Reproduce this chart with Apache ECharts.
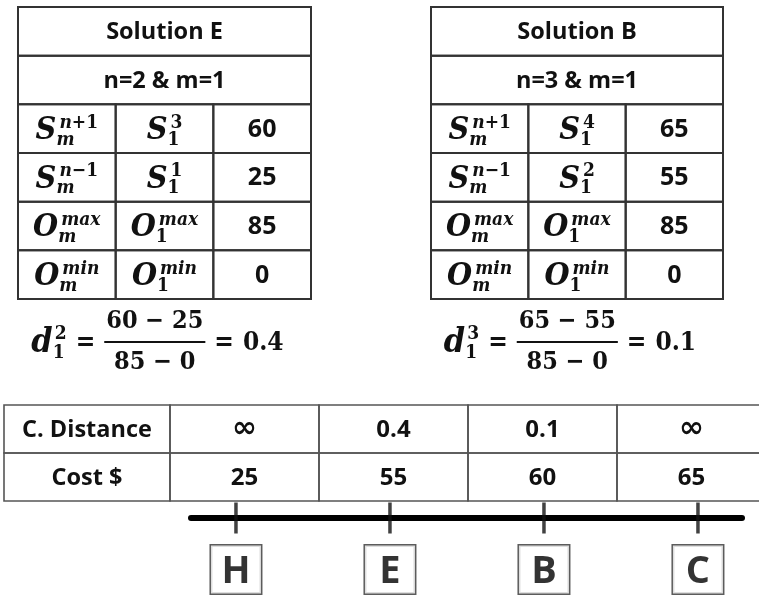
<!DOCTYPE html>
<html><head><meta charset="utf-8">
<script src="https://cdn.jsdelivr.net/npm/echarts@6/dist/echarts.min.js"></script>
<style>html,body{margin:0;padding:0;background:#fff}#c{width:759px;height:598px}</style>
</head><body><div id="c"></div>
<script>
// ---------------- data ----------------
const solutionTitles = ['Solution E', 'Solution B'];
const solutionN = [2, 3];
const solutionM = [1, 1];
const genericSymbols = [['S','n+1','m'], ['S','n−1','m'], ['O','max','m'], ['O','min','m']];
const solutionESymbols = [['S','3','1'], ['S','1','1'], ['O','max','1'], ['O','min','1']];
const solutionBSymbols = [['S','4','1'], ['S','2','1'], ['O','max','1'], ['O','min','1']];
const solutionEValues = [60, 25, 85, 0];
const solutionBValues = [65, 55, 85, 0];
const solutionResults = ['0.4', '0.1'];
const rowHeaders = ['C. Distance', 'Cost $'];
const crowdingDistance = ['∞', '0.4', '0.1', '∞'];
const costs = [25, 55, 60, 65];
const solutionLetters = ['H', 'E', 'B', 'C'];

// ---------------- helpers ----------------
const mctx = document.createElement('canvas').getContext('2d');
function tw(font, s) { mctx.font = font; return mctx.measureText(s).width; }
const MATH = '"DejaVu Serif Condensed", "DejaVu Serif", serif';
const SANS = '"Open Sans", "Noto Sans", sans-serif';
const INK = '#111';

function segs(str) {
  const out = [];
  for (const ch of str) {
    const it = /[a-z]/i.test(ch);
    if (out.length && out[out.length - 1].it === it) out[out.length - 1].t += ch;
    else out.push({ t: ch, it });
  }
  return out;
}
function scriptFont(it, size) { return (it ? 'italic ' : '') + 'bold ' + size + 'px ' + MATH; }
function scriptWidth(str, size) { return segs(str).reduce((a, s) => a + tw(scriptFont(s.it, size), s.t), 0); }
function scriptEls(str, x, y, size) {
  const els = [];
  for (const s of segs(str)) {
    const f = scriptFont(s.it, size);
    els.push({ type: 'text', style: { text: s.t, x, y, font: f, fill: INK, align: 'left', verticalAlign: 'middle' } });
    x += tw(f, s.t);
  }
  return els;
}
const BASE_SIZE = 32, SCR_SIZE = 19;
function symbolEls(sym, cx, cy) {
  const [base, sup, sub] = sym;
  const bf = 'italic bold ' + BASE_SIZE + 'px ' + MATH;
  const wb = tw(bf, base);
  const ws = Math.max(scriptWidth(sup, SCR_SIZE) + 2, scriptWidth(sub, SCR_SIZE));
  const total = wb + 1 + ws;
  const x0 = cx - total / 2;
  return [
    { type: 'text', style: { text: base, x: x0, y: cy + 2, font: bf, fill: INK, align: 'left', verticalAlign: 'middle' } },
    ...scriptEls(sup, x0 + wb + 3, cy - 6, SCR_SIZE),
    ...scriptEls(sub, x0 + wb, cy + 11, SCR_SIZE)
  ];
}

function tableRender(cells, stroke, lw) {
  return function (params, api) {
    const c = cells[params.dataIndex];
    const p0 = api.coord([c.c0, c.r]);
    const p1 = api.coord([c.c1, c.r + 1]);
    const x = Math.min(p0[0], p1[0]), y = Math.min(p0[1], p1[1]);
    const w = Math.abs(p1[0] - p0[0]), h = Math.abs(p1[1] - p0[1]);
    const cx = x + w / 2, cy = y + h / 2;
    const children = [{ type: 'rect', shape: { x, y, width: w, height: h }, style: { fill: 'none', stroke, lineWidth: lw } }];
    if (c.kind === 'sym') children.push(...symbolEls(c.sym, cx, cy));
    else {
      const isInf = String(c.text) === '∞';
      children.push({ type: 'text', style: { text: String(c.text), x: cx, y: cy + (isInf ? 0 : 1), align: 'center', verticalAlign: 'middle',
        font: isInf ? 'bold 30px "DejaVu Sans", sans-serif' : c.font, fill: INK } });
    }
    return { type: 'group', children };
  };
}

// ---------------- top tables ----------------
function buildTopCells(t) {
  const spec = t === 0 ? solutionESymbols : solutionBSymbols;
  const vals = t === 0 ? solutionEValues : solutionBValues;
  const cells = [
    { c0: 0, c1: 3, r: 0, kind: 'text', text: solutionTitles[t], font: 'bold 23.5px ' + SANS },
    { c0: 0, c1: 3, r: 1, kind: 'text', text: 'n=' + solutionN[t] + ' & m=' + solutionM[t], font: 'bold 23.5px ' + SANS }
  ];
  for (let i = 0; i < 4; i++) {
    cells.push({ c0: 0, c1: 1, r: i + 2, kind: 'sym', sym: genericSymbols[i] });
    cells.push({ c0: 1, c1: 2, r: i + 2, kind: 'sym', sym: spec[i] });
    cells.push({ c0: 2, c1: 3, r: i + 2, kind: 'text', text: vals[i], font: 'bold 25px ' + SANS });
  }
  return cells;
}
const topCells = [buildTopCells(0), buildTopCells(1)];
const topGrids = [{ left: 18, top: 7, width: 293, height: 292 }, { left: 431, top: 7, width: 292, height: 292 }];

// ---------------- bottom table ----------------
const BT_MIN = -1.614;
const bottomCells = [];
for (let r = 0; r < 2; r++) {
  bottomCells.push({ c0: BT_MIN, c1: -0.5, r, kind: 'text', text: rowHeaders[r], font: 'bold 23.5px ' + SANS });
  for (let i = 0; i < costs.length; i++) {
    bottomCells.push({ c0: i - 0.5, c1: i + 0.5, r, kind: 'text', text: r === 0 ? crowdingDistance[i] : costs[i], font: 'bold 24px ' + SANS });
  }
}

// ---------------- formulas (graphic) ----------------
function formulaEls(t) {
  const vals = t === 0 ? solutionEValues : solutionBValues;
  const g = topGrids[t];
  const barY = 342;
  const dF = 'italic bold 34px ' + MATH;
  const nF = 'bold 25px ' + MATH;
  const eqF = 'bold 26px ' + MATH;
  const num = vals[0] + ' − ' + vals[1];
  const den = vals[2] + ' − ' + vals[3];
  const res = solutionResults[t];
  const wd = tw(dF, 'd');
  const wsc = Math.max(scriptWidth(String(solutionN[t]), 19), scriptWidth(String(solutionM[t]), 19));
  const weq = tw(eqF, '=');
  const wfr = Math.max(tw(nF, num), tw(nF, den)) + 4;
  const wres = tw(eqF, res);
  const gap = 9;
  const total = wd + 2 + wsc + gap + weq + gap + wfr + gap + weq + gap + wres;
  let x = g.left + g.width / 2 - total / 2 - 7;
  const els = [];
  const T = (text, x, y, font, align) => ({ type: 'text', style: { text, x, y, font, fill: INK, align: align || 'left', verticalAlign: 'middle' } });
  els.push(T('d', x, barY + 1, dF));
  x += wd + 1;
  els.push(...scriptEls(String(solutionN[t]), x + 1, barY - 8, 19));
  els.push(...scriptEls(String(solutionM[t]), x - 1, barY + 11, 19));
  x += wsc + 1 + gap;
  els.push(T('=', x, barY + 1, eqF));
  x += weq + gap;
  els.push({ type: 'rect', shape: { x, y: barY - 1, width: wfr, height: 2 }, style: { fill: INK } });
  els.push(T(num, x + wfr / 2, barY - 21, nF, 'center'));
  els.push(T(den, x + wfr / 2, barY + 20, nF, 'center'));
  x += wfr + gap;
  els.push(T('=', x, barY + 1, eqF));
  x += weq + gap;
  els.push(T(res, x, barY + 1, eqF));
  return els;
}

// ---------------- chart ----------------
const chart = echarts.init(document.getElementById('c'), null, { renderer: 'canvas' });
const hiddenX = (min, max, gi) => ({ type: 'value', gridIndex: gi, min, max, show: false });
const hiddenY = (min, max, gi, inv) => ({ type: 'value', gridIndex: gi, min, max, inverse: !!inv, show: false });
const G = o => Object.assign({ outerBoundsMode: 'none', containLabel: false }, o);

const option = {
  animation: false,
  backgroundColor: '#fff',
  grid: [
    G(topGrids[0]), G(topGrids[1]),
    G({ left: 4, top: 405, width: 762, height: 96 }),
    G({ left: 191, top: 488, width: 551, height: 60 })
  ],
  xAxis: [
    hiddenX(0, 3, 0), hiddenX(0, 3, 1), hiddenX(BT_MIN, 3.5, 2),
    { type: 'value', gridIndex: 3, min: -0.292, max: 3.286, axisLine: { show: true, onZero: true, lineStyle: { color: '#000', width: 6 } },
      axisTick: { show: false }, axisLabel: { show: false }, splitLine: { show: false } }
  ],
  yAxis: [
    hiddenY(0, 6, 0, true), hiddenY(0, 6, 1, true), hiddenY(0, 2, 2, true), hiddenY(-1, 1, 3, false)
  ],
  series: [
    { type: 'custom', xAxisIndex: 0, yAxisIndex: 0, data: topCells[0].map(c => [c.c0, c.c1, c.r]), renderItem: tableRender(topCells[0], '#333', 2) },
    { type: 'custom', xAxisIndex: 1, yAxisIndex: 1, data: topCells[1].map(c => [c.c0, c.c1, c.r]), renderItem: tableRender(topCells[1], '#333', 2) },
    { type: 'custom', xAxisIndex: 2, yAxisIndex: 2, data: bottomCells.map(c => [c.c0, c.c1, c.r]), renderItem: tableRender(bottomCells, '#555', 1.6) },
    { type: 'scatter', xAxisIndex: 3, yAxisIndex: 3, data: solutionLetters.map((l, i) => ({ name: l, value: [i, 0] })),
      symbol: 'rect', symbolSize: [3.5, 31], itemStyle: { color: '#111' },
      label: { show: true, position: 'bottom', distance: 12, formatter: p => p.name,
        fontFamily: SANS, fontWeight: 'bold', fontSize: 38, color: '#000',
        backgroundColor: '#fff', borderColor: '#333', borderWidth: 1.5,
        width: 50, height: 48, lineHeight: 54, align: 'center', padding: 0 } }
  ],
  graphic: [...formulaEls(0), ...formulaEls(1)]
};
chart.setOption(option);
</script>
</body></html>
